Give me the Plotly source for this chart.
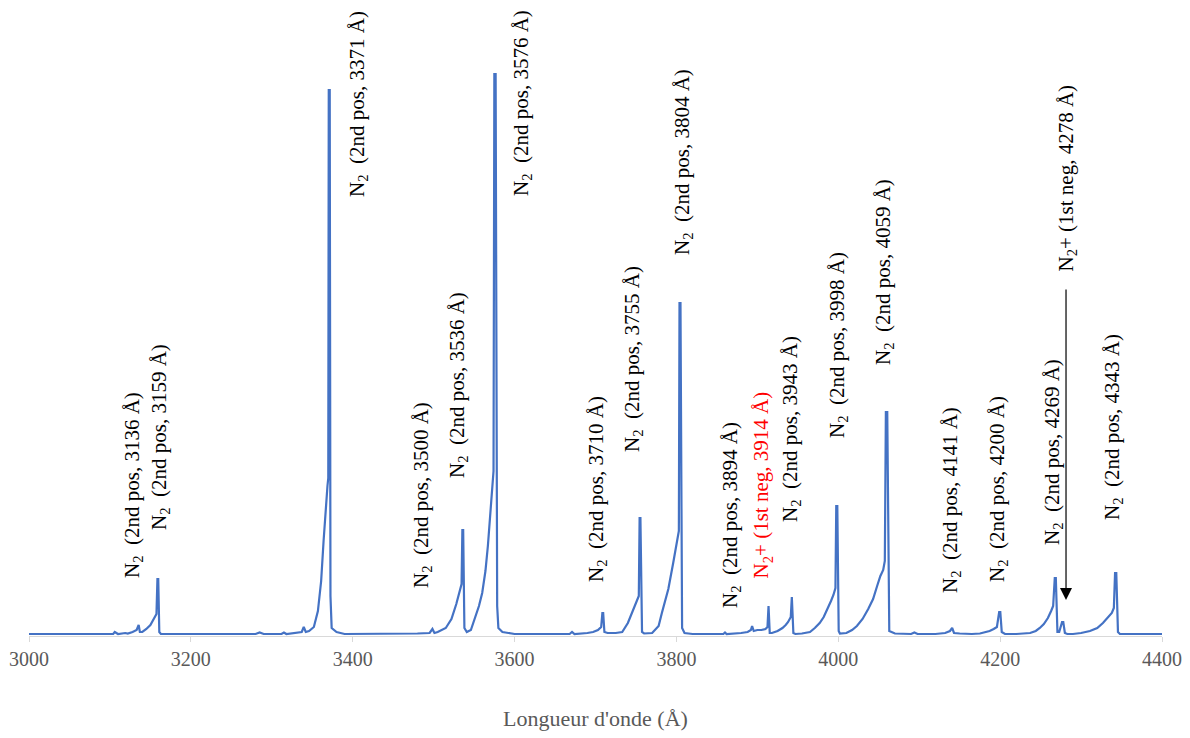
import plotly.graph_objects as go

# ---- spectrum points (wavelength in Å, intensity a.u.) ----
wl_a = [3000, 3030, 3060, 3090, 3104, 3106, 3110, 3119, 3122, 3128, 3133, 3135.5, 3137, 3140, 3145,
        3150, 3154.5, 3157.5, 3158.7, 3159.7, 3161, 3163, 3170]
in_a = [2, 2, 2.5, 2, 2, 4, 2, 3, 2.5, 4, 6, 11, 4, 4, 7,
        11, 17, 22, 57, 57, 4, 2, 2]

wl_b = [3200, 3240, 3280, 3285, 3290, 3312, 3315, 3318, 3330, 3337, 3339.5, 3342, 3346, 3352, 3357,
        3361, 3364, 3367, 3368.8, 3369.8, 3370.4, 3371.6, 3372.5, 3374, 3380, 3390]
in_b = [2, 2, 2, 3.5, 2, 2, 3.5, 2, 3, 4, 9, 4, 5, 9, 25,
        55, 95, 135, 150, 158, 546, 546, 40, 8, 4, 2]

wl_c = [3400, 3440, 3480, 3495, 3498.5, 3501, 3505, 3515, 3522, 3528, 3532, 3534.5, 3535.5, 3536.5,
        3538, 3541, 3546, 3551, 3556, 3560, 3564, 3567, 3569.6, 3572.5, 3574, 3575, 3576.6, 3578.5,
        3580, 3585, 3595]
in_c = [2, 2, 2.5, 3, 7, 3, 4, 8, 17, 32, 45, 52, 106, 106,
        8, 4, 6, 17, 30, 43, 65, 90, 122, 158, 165, 562, 562, 30,
        8, 4, 2.5]

wl_d = [3600, 3640, 3668, 3671, 3674, 3690, 3697, 3703, 3707, 3708.5, 3709.5, 3711, 3715, 3725,
        3733, 3740, 3747.5, 3751, 3753.5, 3754.5, 3755.5, 3757.5, 3760, 3770, 3778, 3782, 3786,
        3790, 3796, 3801, 3803, 3803.8, 3805, 3807, 3810, 3820]
in_d = [2, 2, 2, 4, 2, 3, 4, 6, 9, 23, 23, 4, 3, 3,
        4, 13, 27, 34, 40, 118, 118, 4, 2.5, 3, 10, 23, 34,
        47, 73, 94, 105, 333, 333, 8, 3, 2]

wl_e = [3830, 3858, 3860, 3862, 3880, 3888, 3892, 3893.5, 3895.5, 3900, 3905, 3910, 3912.5, 3913.8,
        3915.3, 3918, 3925, 3931, 3935, 3938, 3941.3, 3942.6, 3944.5, 3947, 3955, 3965, 3971, 3977,
        3982, 3987, 3991, 3994, 3996.5, 3997.5, 3998.8, 4000.5, 4002]
in_e = [2, 2, 3.5, 2, 3, 4, 6, 10, 5, 6, 6, 7, 9, 30,
        3, 3, 5, 8, 11, 14, 19, 39, 3, 2, 2.5, 4, 8, 13,
        19, 27, 35, 41, 48, 130, 130, 5, 2.5]

wl_f = [4010, 4017, 4023, 4030, 4037, 4043, 4048, 4052, 4055.5, 4057.5, 4058.8, 4060.5, 4063, 4070,
        4090, 4094, 4098, 4120, 4132, 4138, 4140.7, 4143, 4150, 4165, 4175, 4182, 4187, 4192, 4196,
        4198.8, 4200.2, 4202, 4206, 4220, 4230, 4237, 4244, 4249, 4254, 4259, 4263, 4265.5, 4267.5,
        4268.8, 4270.8, 4273, 4276.5, 4278, 4280, 4283, 4290, 4300, 4311, 4320, 4327, 4333, 4338,
        4340.5, 4342, 4343.5, 4345.6, 4348, 4360, 4380, 4400]
in_f = [3, 6, 10, 17, 27, 37, 50, 60, 66, 75, 224, 224, 5, 2.5,
        2, 3.5, 2, 2, 3, 5, 8, 3, 2.5, 2, 2.5, 4, 5, 7, 9,
        24, 24, 4, 2, 2, 2.5, 3, 5, 8, 12, 18, 25, 30, 58,
        58, 4, 4, 14, 14, 3, 2, 2, 3, 5, 8, 13, 18, 23,
        28, 63, 63, 4, 2, 2, 2, 2]

wavelength = wl_a + wl_b + wl_c + wl_d + wl_e + wl_f
intensity = in_a + in_b + in_c + in_d + in_e + in_f

# ---- band labels ----
label_species = ["N<sub>2</sub>"] * 10 + ["N<sub>2</sub>+"] + ["N<sub>2</sub>"] * 6 + ["N<sub>2</sub>+"] + ["N<sub>2</sub>"]
label_system = ["2nd pos"] * 10 + ["1st neg"] + ["2nd pos"] * 6 + ["1st neg"] + ["2nd pos"]
label_line = [3136, 3159, 3371, 3500, 3536, 3576, 3710, 3755, 3804, 3894,
              3914, 3943, 3998, 4059, 4141, 4200, 4269, 4278, 4343]
label_color = ["#000000"] * 10 + ["#FF0000"] + ["#000000"] * 8

# label placement (x of the text column in Å, bottom of the text in intensity units)
label_x = [3128.5, 3161.9, 3406.5, 3485.6, 3530.1, 3609.2, 3701.8, 3746.3, 3808.1, 3867.4,
           3905.7, 3941.5, 3999.6, 4056.5, 4139.3, 4197.3, 4265.3, 4281.4, 4339.4]
label_bottom = [58, 106, 439, 48, 158, 440, 54, 184, 381, 28,
                58, 114, 198, 271, 43, 54, 91, 364, 116]

SERIF = "Liberation Serif"

fig = go.Figure()
fig.add_trace(go.Scatter(x=wavelength, y=intensity, mode="lines",
                         line=dict(color="#4472C4", width=2.2), hoverinfo="x+y"))

for sp, sy, ln, col, lx, lb in zip(label_species, label_system, label_line, label_color, label_x, label_bottom):
    sep = "\u00a0\u00a0" if sp == "N<sub>2</sub>" else "\u00a0"
    fig.add_annotation(x=lx, y=lb, xref="x", yref="y",
                       text=f"{sp}{sep}({sy}, {ln}\u00a0Å)", textangle=-90,
                       showarrow=False, xanchor="center", yanchor="bottom",
                       borderpad=0, borderwidth=0,
                       font=dict(family=SERIF, size=21, color=col))

# arrow pointing to the 4278 Å line
fig.add_annotation(x=4281.4, y=36, xref="x", yref="y", ax=4281.4, ay=348, axref="x", ayref="y",
                   text="", showarrow=True, arrowhead=2, arrowsize=2, arrowwidth=1.2,
                   arrowcolor="#000000", standoff=0)

fig.update_layout(
    width=1190, height=738,
    margin=dict(l=21, r=36, t=22, b=110),
    plot_bgcolor="white", paper_bgcolor="white",
    showlegend=False,
    xaxis=dict(range=[3000, 4400], dtick=200, tick0=3000, showgrid=False, zeroline=False,
               automargin=False,
               showline=True, linecolor="#D9D9D9", linewidth=1,
               ticks="outside", ticklen=5, tickcolor="#D9D9D9",
               tickfont=dict(family=SERIF, size=20, color="#595959"),
               title=dict(text="Longueur d'onde (Å)", standoff=41,
                          font=dict(family=SERIF, size=22, color="#595959"))),
    yaxis=dict(range=[0, 606], visible=False, automargin=False),
)

fig.write_html("out.html")
